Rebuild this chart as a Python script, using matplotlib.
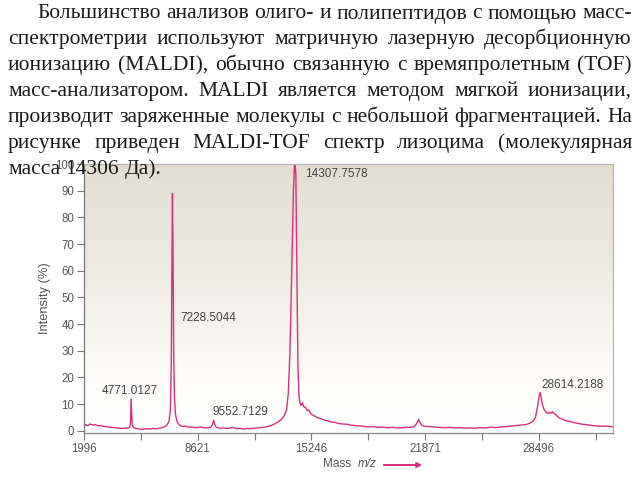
import numpy as np
import matplotlib
matplotlib.use("Agg")
from matplotlib import pyplot as plt
from matplotlib.colors import LinearSegmentedColormap
from matplotlib.patches import FancyArrowPatch

# paragraph above the spectrum, one entry per printed line
text_lines = [
    "Большинство анализов олиго- и полипептидов с помощью масс-",
    "спектрометрии используют матричную лазерную десорбционную",
    "ионизацию (MALDI), обычно связанную с времяпролетным (TOF)",
    "масс-анализатором. MALDI является методом мягкой ионизации,",
    "производит заряженные молекулы с небольшой фрагментацией. На",
    "рисунке приведен MALDI-TOF спектр лизоцима (молекулярная",
    "масса 14306 Да).",
]

# spectrum
mass = [
    1996, 2100, 2200, 2350, 2500, 2650, 2800, 3000, 3200, 3400, 3600, 3800,
    4000, 4200, 4400, 4600, 4680, 4710, 4740, 4770, 4800, 4840, 4900, 5000,
    5200, 5400, 5600, 5800, 6000, 6200, 6400, 6600, 6800, 6950, 7030, 7080,
    7120, 7150, 7180, 7220, 7270, 7330, 7420, 7500, 7600, 7750, 7900, 8050,
    8200, 8400, 8600, 8800, 9000, 9200, 9400, 9480, 9550, 9620, 9700, 9900,
    10100, 10300, 10500, 10700, 10900, 11100, 11300, 11500, 11700, 11900,
    12100, 12300, 12500, 12700, 12900, 13100, 13300, 13500, 13650, 13800,
    13900, 14000, 14100, 14200, 14260, 14300, 14340, 14400, 14460, 14520,
    14580, 14650, 14720, 14800, 14900, 15000, 15100, 15200, 15300, 15450,
    15600, 15800, 16000, 16200, 16400, 16600, 16800, 17000, 17300, 17600,
    17900, 18200, 18500, 18800, 19100, 19400, 19700, 20000, 20300, 20600,
    20900, 21150, 21300, 21420, 21500, 21580, 21700, 21850, 22100, 22400,
    22700, 23000, 23300, 23600, 23900, 24200, 24500, 24800, 25100, 25400,
    25700, 26000, 26300, 26600, 26900, 27200, 27500, 27800, 28000, 28150,
    28300, 28420, 28520, 28570, 28620, 28700, 28800, 28900, 29000, 29100,
    29200, 29300, 29400, 29500, 29650, 29800, 30000, 30200, 30400, 30600,
    30800, 31000, 31300, 31600, 31900, 32200, 32500, 32820,
]
intensity = [
    1.6, 2.4, 1.9, 2.6, 2.2, 2.3, 1.9, 2.0, 1.6, 1.5, 1.3, 1.2,
    1.0, 0.9, 1.0, 1.1, 1.6, 4.0, 12.0, 7.0, 2.8, 1.6, 1.2, 0.9,
    0.7, 0.6, 0.8, 0.7, 0.9, 0.8, 1.0, 1.3, 2.0, 3.5, 8.0, 25.0,
    60.0, 89.0, 70.0, 30.0, 12.0, 6.0, 3.5, 2.6, 2.0, 1.6, 1.8, 1.4,
    1.5, 1.3, 1.2, 1.4, 1.2, 1.1, 1.5, 2.3, 4.0, 2.2, 1.4, 1.0,
    1.1, 0.9, 1.0, 1.3, 0.8, 0.9, 0.7, 0.9, 0.8, 1.0,
    1.1, 1.2, 1.4, 1.6, 2.0, 2.6, 3.3, 4.3, 5.5, 8.0,
    14.0, 30.0, 60.0, 90.0, 100.0, 100.0, 96.0, 60.0, 25.0, 13.0,
    10.5, 9.5, 10.5, 9.0, 8.8, 7.6, 7.8, 6.5, 6.0, 5.5,
    5.0, 4.6, 4.0, 3.8, 3.3, 3.2, 2.8, 2.6, 2.5, 2.1,
    1.9, 1.8, 1.5, 1.6, 1.3, 1.4, 1.2, 1.3, 1.1, 1.2,
    1.3, 1.5, 2.0, 3.2, 4.3, 3.0, 2.0, 1.7, 1.6, 1.5,
    1.4, 1.2, 1.3, 1.1, 1.2, 1.0, 1.1, 1.0, 1.2, 1.1,
    1.4, 1.2, 1.5, 1.6, 1.8, 2.0, 2.2, 2.4, 3.0, 3.6,
    5.0, 9.0, 13.0, 14.4, 13.0, 10.0, 8.0, 7.2, 6.5, 7.0,
    6.6, 7.2, 6.4, 6.0, 5.0, 4.6, 4.0, 3.6, 3.4, 3.0,
    2.8, 2.5, 2.3, 2.0, 1.9, 1.7, 1.8, 1.5,
]

peak_labels = ["4771.0127", "7228.5044", "9552.7129", "14307.7578", "28614.2188"]
label_mass = [3027, 7590, 9512, 14873, 28665]
label_int = [15.1, 42.4, 7.2, 96.4, 17.2]

major_ticks = [1996, 8621, 15246, 21871, 28496]
minor_ticks = [5308.5, 11933.5, 18558.5, 25183.5, 31808.5]
y_ticks = [0, 10, 20, 30, 40, 50, 60, 70, 80, 90, 100]

pink = "#d4307c"
grey = "#555555"

fig = plt.figure(figsize=(6.4, 4.8), dpi=100)
fig.patch.set_facecolor("white")

ax = fig.add_axes([84 / 640, 1 - 433 / 480, 529 / 640, 269 / 480])

# beige-to-white background of the plot box
bg = LinearSegmentedColormap.from_list(
    "bg", [(0, "#ffffff"), (0.2, "#fdfcfa"), (0.6, "#eeebe3"), (1, "#e2ded1")])
grad = np.linspace(0, 1, 256).reshape(-1, 1)
ax.imshow(grad, extent=[0, 1, 0, 1], transform=ax.transAxes, aspect="auto",
          cmap=bg, origin="lower", zorder=0)

ax.plot(mass, intensity, color=pink, lw=1.0, zorder=2)

for lab, xm, yi in zip(peak_labels, label_mass, label_int):
    ax.text(xm, yi, lab, fontsize=8.5, color="#444444", family="Liberation Sans",
            ha="left", va="center", zorder=3)

ax.set_xlim(1996, 32820)
ax.set_ylim(-0.8, 100)
ax.set_xticks(major_ticks)
ax.set_xticks(minor_ticks, minor=True)
ax.set_yticks(y_ticks)
ax.tick_params(axis="both", which="both", direction="out", length=5,
               width=0.8, color="#777777", labelsize=8.3, labelcolor=grey, pad=2)
for lab in ax.get_xticklabels() + ax.get_yticklabels():
    lab.set_family("Liberation Sans")

ax.spines["left"].set_color("#777777")
ax.spines["bottom"].set_color("#888888")
ax.spines["top"].set_color("#b5b5b5")
ax.spines["right"].set_color("#b5b5b5")
for s in ax.spines.values():
    s.set_linewidth(0.9)

ax.set_ylabel("Intensity (%)", fontsize=9.3, color=grey, family="Liberation Sans",
              labelpad=3)

fig.text(323 / 640, 1 - 464 / 480, "Mass", fontsize=8.5, color=grey,
         family="Liberation Sans", va="center")
fig.text(358 / 640, 1 - 464 / 480, "m/z", fontsize=8.5, color=grey,
         family="Liberation Sans", style="italic", va="center")
arrow = FancyArrowPatch((381 / 640, 1 - 465 / 480), (425 / 640, 1 - 465 / 480),
                        transform=fig.transFigure, arrowstyle="-|>",
                        mutation_scale=7, color=pink, lw=1.4)
fig.add_artist(arrow)

# justified paragraph: place every word by hand
renderer = fig.canvas.get_renderer()
left, right = 8, 632
baselines = [18.5, 44.4, 70.3, 96.2, 122.1, 148.0, 173.9]
for i, (line, yb) in enumerate(zip(text_lines, baselines)):
    x0 = 37 if i == 0 else left
    words = line.split(" ")
    arts = [fig.text(0, 1 - yb / 480, w, fontsize=15.5, family="Liberation Serif",
                     color="#1a1a1a", va="baseline", zorder=5) for w in words]
    widths = [a.get_window_extent(renderer).width for a in arts]
    if i == len(text_lines) - 1:
        gap = renderer.points_to_pixels(15.5) * 0.25
    else:
        gap = (right - x0 - sum(widths)) / (len(words) - 1)
    x = x0
    for a, w in zip(arts, widths):
        a.set_x(x / 640)
        x += w + gap

fig.savefig("out.png", dpi=100)
